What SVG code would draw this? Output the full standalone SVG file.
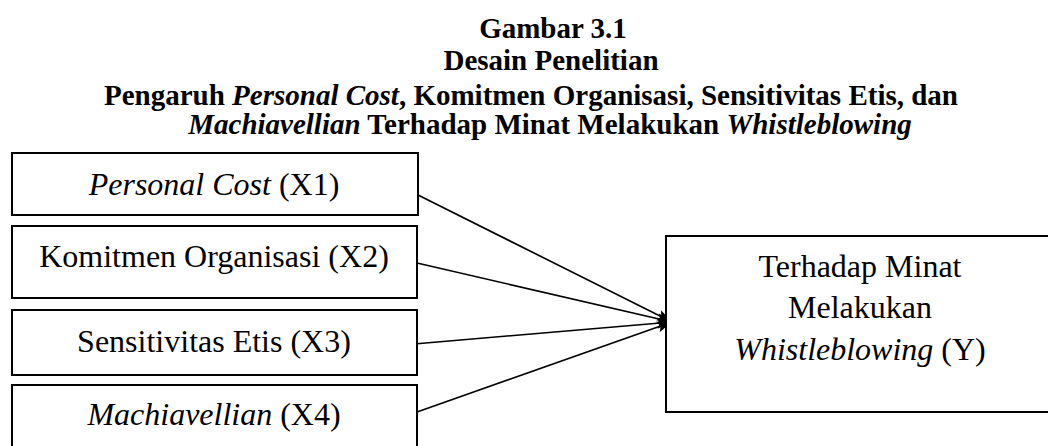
<svg xmlns="http://www.w3.org/2000/svg" width="1048" height="446" viewBox="0 0 1048 446">
<style>
.title{font-family:"Liberation Serif","Times New Roman",serif;font-size:29px;font-weight:bold;fill:#000;}
.lbl{font-family:"Liberation Serif","Times New Roman",serif;font-size:32px;fill:#000;}
.box{fill:#fff;stroke:#000;stroke-width:2;}
.conn{stroke:#000;stroke-width:1.6;fill:none;marker-end:url(#arr);}
.it{font-style:italic;}
</style>
<defs>
<marker id="arr" markerUnits="userSpaceOnUse" markerWidth="16" markerHeight="12" refX="15" refY="6" orient="auto">
<path d="M0,0.5 L15,6 L0,11.5 L3,6 z" fill="#000"/>
</marker>
</defs>
<rect width="1048" height="446" fill="#fff"/>
<g id="title">
<text class="title" x="553" y="38" text-anchor="middle">Gambar 3.1</text>
<text class="title" x="551" y="70" text-anchor="middle">Desain Penelitian</text>
<text class="title" x="531" y="105" text-anchor="middle">Pengaruh <tspan class="it">Personal Cost</tspan>, Komitmen Organisasi, Sensitivitas Etis, dan</text>
<text class="title" x="550" y="134" text-anchor="middle"><tspan class="it">Machiavellian</tspan> Terhadap Minat Melakukan <tspan class="it">Whistleblowing</tspan></text>
</g>
<g id="connectors">
<line class="conn" x1="418" y1="195" x2="672" y2="322"/>
<line class="conn" x1="417" y1="263" x2="672" y2="322"/>
<line class="conn" x1="414" y1="344" x2="672" y2="322"/>
<line class="conn" x1="417" y1="412" x2="672" y2="322"/>
</g>
<g id="x1">
<rect class="box" x="12" y="153" width="406" height="62"/>
<text class="lbl" x="214" y="195" text-anchor="middle"><tspan class="it">Personal Cost</tspan> (X1)</text>
</g>
<g id="x2">
<rect class="box" x="12" y="226" width="405" height="72"/>
<text class="lbl" x="214" y="267" text-anchor="middle">Komitmen Organisasi (X2)</text>
</g>
<g id="x3">
<rect class="box" x="12" y="310" width="405" height="65"/>
<text class="lbl" x="214" y="352" text-anchor="middle">Sensitivitas Etis (X3)</text>
</g>
<g id="x4">
<rect class="box" x="12" y="385" width="405" height="80"/>
<text class="lbl" x="214" y="425" text-anchor="middle"><tspan class="it">Machiavellian</tspan> (X4)</text>
</g>
<g id="y">
<rect class="box" x="666" y="236" width="400" height="176"/>
<text class="lbl" x="860" y="277" text-anchor="middle">Terhadap Minat</text>
<text class="lbl" x="860" y="318" text-anchor="middle">Melakukan</text>
<text class="lbl" x="860" y="360" text-anchor="middle"><tspan class="it">Whistleblowing</tspan> (Y)</text>
</g>
</svg>
